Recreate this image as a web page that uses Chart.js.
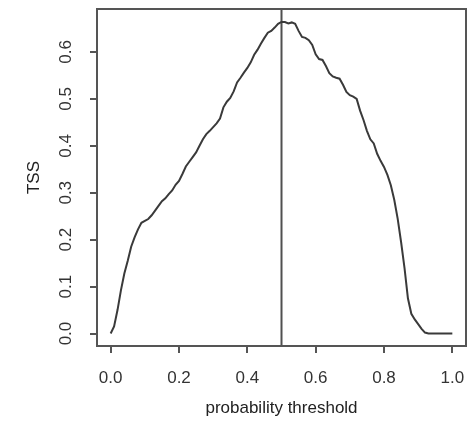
<!DOCTYPE html>
<html>
<head>
<meta charset="utf-8">
<script src="https://cdn.jsdelivr.net/npm/chart.js@4"></script>
<style>
  html, body { margin: 0; padding: 0; background: #fff; }
  #wrap { width: 467px; height: 435px; }
</style>
</head>
<body>
<div id="wrap"><canvas id="myChart" width="467" height="435"></canvas></div>
<script>
// probability thresholds (x) and TSS (y)
var thresholds = [
	0.00, 0.01, 0.02, 0.03, 0.04, 0.05, 0.06, 0.07, 0.08, 0.09,
	0.10, 0.11, 0.12, 0.13, 0.14, 0.15, 0.16, 0.17, 0.18, 0.19,
	0.20, 0.21, 0.22, 0.23, 0.24, 0.25, 0.26, 0.27, 0.28, 0.29,
	0.30, 0.31, 0.32, 0.33, 0.34, 0.35, 0.36, 0.37, 0.38, 0.39,
	0.40, 0.41, 0.42, 0.43, 0.44, 0.45, 0.46, 0.47, 0.48, 0.49,
	0.50, 0.51, 0.52, 0.53, 0.54, 0.55, 0.56, 0.57, 0.58, 0.59,
	0.60, 0.61, 0.62, 0.63, 0.64, 0.65, 0.66, 0.67, 0.68, 0.69,
	0.70, 0.71, 0.72, 0.73, 0.74, 0.75, 0.76, 0.77, 0.78, 0.79,
	0.80, 0.81, 0.82, 0.83, 0.84, 0.85, 0.86, 0.87, 0.88, 0.89,
	0.90, 0.91, 0.92, 0.93, 0.94, 0.95, 0.96, 0.97, 0.98, 0.99, 1.00
];
var tss = [
	0.000, 0.015, 0.050, 0.092, 0.128, 0.155, 0.185, 0.205, 0.222, 0.236,
	0.240, 0.244, 0.252, 0.262, 0.272, 0.282, 0.288, 0.297, 0.305, 0.317,
	0.325, 0.340, 0.356, 0.366, 0.376, 0.386, 0.400, 0.414, 0.425, 0.432,
	0.440, 0.448, 0.458, 0.482, 0.494, 0.502, 0.516, 0.535, 0.545, 0.556,
	0.566, 0.578, 0.594, 0.605, 0.618, 0.630, 0.641, 0.645, 0.652, 0.660,
	0.664, 0.664, 0.661, 0.663, 0.660, 0.645, 0.632, 0.630, 0.625, 0.615,
	0.595, 0.585, 0.583, 0.570, 0.555, 0.548, 0.545, 0.543, 0.530, 0.515,
	0.508, 0.505, 0.500, 0.475, 0.455, 0.432, 0.414, 0.405, 0.383, 0.368,
	0.355, 0.338, 0.316, 0.285, 0.245, 0.195, 0.140, 0.075, 0.042, 0.030,
	0.020, 0.010, 0.002, 0.000, 0.000, 0.000, 0.000, 0.000, 0.000, 0.000, 0.000
];
var bestThreshold = 0.5;
var xTicks = [0.0, 0.2, 0.4, 0.6, 0.8, 1.0];
var yTicks = [0.0, 0.1, 0.2, 0.3, 0.4, 0.5, 0.6];
var xMin = -0.04, xMax = 1.04;
var yMin = -0.0266, yMax = 0.6916;

var points = thresholds.map(function (t, i) { return { x: t, y: tss[i] }; });

// R style box round the plot area
var boxPlugin = {
	id: 'box',
	afterDraw: function (chart) {
		var a = chart.chartArea, c = chart.ctx;
		c.save();
		c.strokeStyle = '#555';
		c.lineWidth = 2;
		c.strokeRect(a.left, a.top, a.right - a.left, a.bottom - a.top);
		c.restore();
	}
};

var ctx = document.getElementById("myChart").getContext("2d");
var myChart = new Chart(ctx, {
	type: 'scatter',
	data: {
		datasets: [{
			label: 'TSS',
			data: points,
			showLine: true,
			borderColor: '#3a3a3a',
			borderWidth: 2,
			pointRadius: 0,
			tension: 0
		}, {
			label: 'threshold',
			data: [{ x: bestThreshold, y: yMin }, { x: bestThreshold, y: yMax }],
			showLine: true,
			borderColor: '#505050',
			borderWidth: 2,
			pointRadius: 0
		}]
	},
	plugins: [boxPlugin],
	options: {
		responsive: false,
		animation: false,
		layout: { padding: { left: 0, top: 9, right: 1, bottom: 0 } },
		plugins: {
			legend: { display: false },
			tooltip: { enabled: false }
		},
		scales: {
			x: {
				type: 'linear',
				min: xMin,
				max: xMax,
				afterBuildTicks: function (scale) {
					scale.ticks = xTicks.map(function (v) { return { value: v }; });
				},
				afterFit: function (scale) {
					scale.height = 89;
					scale.paddingLeft = 0;
					scale.paddingRight = 0;
				},
				grid: { drawOnChartArea: false, tickLength: 7, tickColor: '#555', lineWidth: 2 },
				border: { display: false },
				ticks: {
					color: '#333',
					padding: 15,
					maxRotation: 0,
					font: { family: 'Liberation Sans', size: 17 },
					callback: function (v) { return v.toFixed(1); }
				},
				title: {
					display: true,
					text: 'probability threshold',
					color: '#222',
					padding: { top: 0, bottom: 16 },
					font: { family: 'Liberation Sans', size: 17 }
				}
			},
			y: {
				type: 'linear',
				min: yMin,
				max: yMax,
				afterBuildTicks: function (scale) {
					scale.ticks = yTicks.map(function (v) { return { value: v }; });
				},
				afterFit: function (scale) {
					scale.width = 97;
					scale.paddingTop = 0;
					scale.paddingBottom = 0;
				},
				grid: { drawOnChartArea: false, tickLength: 7, tickColor: '#555', lineWidth: 2 },
				border: { display: false },
				ticks: {
					color: '#333',
					padding: 12,
					minRotation: 90,
					maxRotation: 90,
					crossAlign: 'center',
					font: { family: 'Liberation Sans', size: 17 },
					callback: function (v) { return v.toFixed(1); }
				},
				title: {
					display: true,
					text: 'TSS',
					color: '#222',
					padding: { top: 24, bottom: 0 },
					font: { family: 'Liberation Sans', size: 17 }
				}
			}
		}
	}
});
</script>
</body>
</html>
